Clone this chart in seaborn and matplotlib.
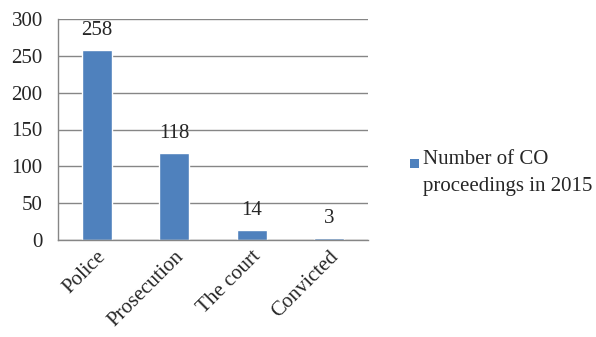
import matplotlib
matplotlib.use("Agg")
import matplotlib.pyplot as plt
from matplotlib.patches import Rectangle
import seaborn as sns
import pandas as pd

categories = ["Police", "Prosecution", "The court", "Convicted"]
values = [258, 118, 14, 3]
series_name = "Number of CO\nproceedings in 2015"
y_ticks = [0, 50, 100, 150, 200, 250, 300]

bar_color = "#4F81BD"
grid_color = "#868686"
fs = 15

sns.set_theme(style="white")
plt.rcParams["font.family"] = ["Liberation Serif", "DejaVu Serif"]

df = pd.DataFrame({"stage": categories, "count": values})

fig = plt.figure(figsize=(5.96, 3.37), dpi=100)
ax = fig.add_axes([58 / 596, 1 - 240 / 337, 310 / 596, 221 / 337])

sns.barplot(data=df, x="stage", y="count", color=bar_color, width=0.39,
            saturation=1, ax=ax, zorder=3)

ax.set_ylim(0, 300)
ax.set_xlim(-0.5, len(categories) - 0.5)
ax.set_yticks(y_ticks)
ax.set_yticklabels([str(t) for t in y_ticks], fontsize=fs)
ax.yaxis.grid(True, color=grid_color, linewidth=1, zorder=0)
ax.set_xlabel("")
ax.set_ylabel("")

# category boundary ticks on the x axis
ax.set_xticks([i - 0.5 for i in range(len(categories) + 1)], minor=True)
ax.tick_params(axis="x", which="minor", length=5, color=grid_color, width=1, direction="out")
ax.tick_params(axis="x", which="major", length=0, pad=5)
ax.tick_params(axis="y", length=5, color=grid_color, width=1, direction="out", pad=6)
ax.set_xticks(range(len(categories)))
ax.set_xticklabels(categories, rotation=45, ha="right", rotation_mode="anchor",
                   fontsize=fs)

for side in ["top", "right"]:
    ax.spines[side].set_visible(False)
for side in ["left", "bottom"]:
    ax.spines[side].set_color(grid_color)
    ax.spines[side].set_linewidth(1)
    ax.spines[side].set_zorder(4)

for i, v in enumerate(values):
    ax.annotate(str(v), (i, v), xytext=(0, 7), textcoords="offset points",
                ha="center", va="bottom", fontsize=fs)

# legend
fig.patches.append(Rectangle((410 / 596, 1 - 168 / 337), 9 / 596, 9 / 337,
                             transform=fig.transFigure, facecolor=bar_color,
                             edgecolor="none"))
fig.text(423 / 596, 1 - 150 / 337, series_name, fontsize=fs, ha="left",
         va="top", linespacing=1.55)

fig.savefig("out.png", dpi=100)
